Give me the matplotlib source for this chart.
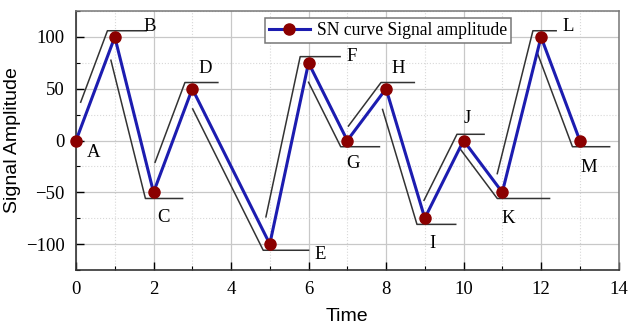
import matplotlib
matplotlib.use("Agg")
import matplotlib.pyplot as plt
import numpy as np

# SN curve data
time = [0, 1, 2, 3, 5, 6, 7, 8, 9, 10, 11, 12, 13]
amplitude = [0, 100, -50, 50, -100, 75, 0, 50, -75, 0, -50, 100, 0]
point_names = ["A", "B", "C", "D", "E", "F", "G", "H", "I", "J", "K", "L", "M"]

# annotation styling: label offset from each point, length of the horizontal tail
label_dx = [0.45, 0.91, 0.25, 0.33, 1.3, 1.1, 0.16, 0.32, 0.2, 0.1, 0.16, 0.7, 0.23]
label_dy = [-12, 10, -24, 20, -10, 6, -22, 20, -24, 21, -25, 10, -26]
tail_len = [0, 1.0, 0.96, 0.85, 1.17, 1.03, 1.0, 0.86, 1.0, 0.7, 1.35, 0.6, 0.96]
start_frac = [0, 0.37, 0.15, 0.29, 0.13, 0.15, 0.25, 0.28, 0.16, 0.23, 0.18, 0.12, 0.15]

x_ticks = [0, 2, 4, 6, 8, 10, 12, 14]
y_ticks = [-100, -50, 0, 50, 100]

plt.rcParams["font.family"] = ["Liberation Serif", "DejaVu Serif"]

fig = plt.figure(figsize=(6.39, 3.26), dpi=100)
ax = fig.add_axes([0.119, 0.172, 0.849, 0.794])

# offset guide lines (shifted copies of each segment)
shift = 0.25
over = 6
for i in range(1, len(time)):
    x0, y0 = time[i - 1], amplitude[i - 1]
    x1, y1 = time[i], amplitude[i]
    sgn = 1 if y1 > y0 else -1
    f = start_frac[i]
    ys = y0 + f * (y1 - y0)
    ye = y1 + sgn * over
    slope = (y1 - y0) / (x1 - x0)
    xs = x0 + (ys - y0) / slope - shift
    xe = x0 + (ye - y0) / slope - shift
    ax.plot([xs, xe, xe + tail_len[i]], [ys, ye, ye], color="#333333", lw=1.1, zorder=2)

ax.plot(time, amplitude, color="#1c1cb0", lw=2.2, marker="o", markersize=8,
        markerfacecolor="#8b0000", markeredgecolor="#8b0000",
        label="SN curve Signal amplitude", zorder=3, clip_on=False)

for x, y, name, dx, dy in zip(time, amplitude, point_names, label_dx, label_dy):
    ax.text(x + dx, y + dy, name, fontsize=13.5, ha="center", va="center")

ax.set_xlim(0, 14)
ax.set_ylim(-125, 125)
ax.set_xticks(x_ticks)
ax.set_yticks(y_ticks)
ax.set_xticks(np.arange(1, 14, 2), minor=True)
ax.set_yticks([-125, -75, -25, 25, 75, 125], minor=True)
ax.tick_params(which="major", direction="in", length=6, width=1, labelsize=13.5, pad=8)
ax.tick_params(which="minor", direction="in", length=3, width=0.8)
ax.grid(which="major", color="#c8c8c8", lw=0.9)
ax.grid(which="minor", color="#d8d8d8", lw=0.8, ls=":")
ax.set_axisbelow(True)
for side in ["left", "bottom"]:
    ax.spines[side].set_linewidth(1.2)
    ax.spines[side].set_color("#333333")
for side in ["top", "right"]:
    ax.spines[side].set_linewidth(1.1)
    ax.spines[side].set_color("#777777")

ax.set_xlabel("Time", fontsize=14, family=["Liberation Sans", "DejaVu Sans"], labelpad=7)
ax.set_ylabel("Signal Amplitude", fontsize=14, family=["Liberation Sans", "DejaVu Sans"], labelpad=4)

leg = ax.legend(loc="upper center", bbox_to_anchor=(0.575, 0.975), fontsize=12.7,
                fancybox=False, edgecolor="#777777", framealpha=1,
                handlelength=2.3, borderpad=0.25, handletextpad=0.4, borderaxespad=0)
leg.get_frame().set_linewidth(1.1)

fig.savefig("out.png", dpi=100)
